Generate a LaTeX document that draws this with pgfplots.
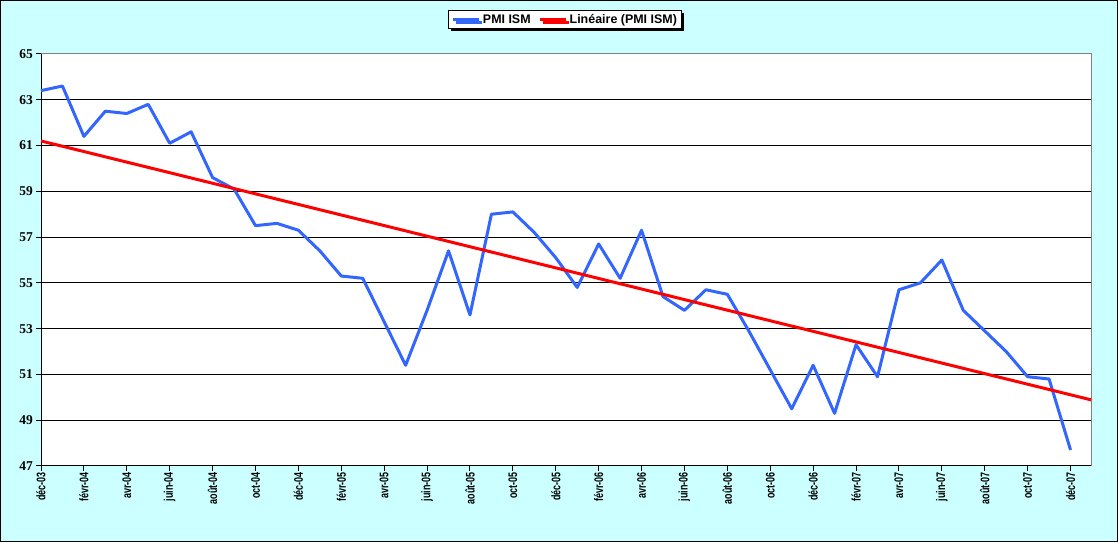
\documentclass[border=0pt]{standalone}
\usepackage{fontspec}
\setmainfont{Liberation Sans}
\newfontfamily\tnr{Liberation Serif}
\newfontfamily\xlab[FakeStretch=0.72]{Liberation Sans}
\usepackage{pgfplots}
\pgfplotsset{compat=1.18}
\usetikzlibrary{shadows}
\definecolor{bg}{RGB}{204,255,255}
\definecolor{pmiblue}{RGB}{51,102,255}
\begin{document}
\begin{tikzpicture}[x=1bp,y=1bp]
\fill[bg] (0,0) rectangle (1118,542);
\draw[black, line width=1bp] (0.5,0.5) rectangle (1117.5,541.5);
\begin{axis}[
  at={(41bp,76bp)}, anchor=south west,
  scale only axis, width=1051bp, height=412bp,
  xmin=0, xmax=49, ymin=47, ymax=65,
  ytick={47,49,...,65},
  xtick={0,2,...,48},
  xticklabels={déc-03,févr-04,avr-04,juin-04,août-04,oct-04,déc-04,févr-05,avr-05,juin-05,août-05,oct-05,déc-05,févr-06,avr-06,juin-06,août-06,oct-06,déc-06,févr-07,avr-07,juin-07,août-07,oct-07,déc-07},
  axis lines*=left,
  axis line style={-, black, line width=1bp},
  axis background/.style={fill=white},
  ymajorgrids,
  major grid style={black, line width=1bp},
  tick align=outside,
  major tick length=5bp,
  tick style={black, line width=1bp},
  /pgf/number format/assume math mode=true,
  yticklabel style={font=\tnr\bfseries\fontsize{13.5}{15}\selectfont, inner sep=1bp, xshift=-2bp},
  xticklabel style={rotate=90, anchor=east, font=\xlab\bfseries\fontsize{12.5}{14}\selectfont, inner sep=1bp},
  legend columns=2,
  legend style={at={(0.499,1.0837)}, anchor=center, draw=black, line width=1bp, fill=white,
    font=\bfseries\fontsize{12.5}{14}\selectfont, inner xsep=3bp, inner ysep=2bp,
    drop shadow={shadow xshift=2.5bp, shadow yshift=-2.5bp, fill=black, opacity=1},
    /tikz/every even column/.append style={column sep=6bp}},
  legend image code/.code={\draw[#1] (0bp,0bp) -- (26bp,0bp);},
  clip=false,
]
\addplot[pmiblue, line width=3bp, line join=round] coordinates {
(0,63.4) (1,63.6) (2,61.4) (3,62.5) (4,62.4) (5,62.8) (6,61.1) (7,61.6) (8,59.6) (9,59.1)
(10,57.5) (11,57.6) (12,57.3) (13,56.4) (14,55.3) (15,55.2) (16,53.3) (17,51.4) (18,53.8) (19,56.4)
(20,53.6) (21,58.0) (22,58.1) (23,57.2) (24,56.1) (25,54.8) (26,56.7) (27,55.2) (28,57.3) (29,54.4)
(30,53.8) (31,54.7) (32,54.5) (33,52.9) (34,51.2) (35,49.5) (36,51.4) (37,49.3) (38,52.3) (39,50.9)
(40,54.7) (41,55.0) (42,56.0) (43,53.8) (44,52.9) (45,52.0) (46,50.9) (47,50.8) (48,47.7)
};
\addlegendentry{PMI ISM}
\addplot[red, line width=3bp] coordinates {(0,61.2) (49,49.88)};
\addlegendentry{Linéaire (PMI ISM)}
\draw[gray, line width=1bp] (rel axis cs:0,1) -- (rel axis cs:1,1) -- (rel axis cs:1,0);
\end{axis}
\pgfresetboundingbox
\path[use as bounding box] (0,0) rectangle (1118,542);
\end{tikzpicture}
\end{document}
